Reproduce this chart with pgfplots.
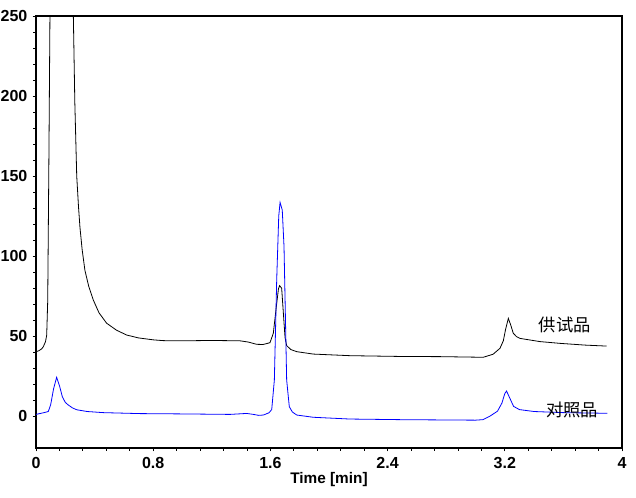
\documentclass[border=0pt]{standalone}
\usepackage{fontspec}
\setmainfont{Liberation Sans}
\newfontfamily\cjk{Noto Sans CJK SC}
\usepackage{pgfplots}
\pgfplotsset{compat=1.18}

% Sample (供试品) trace
\pgfplotstableread{
t v
0.000 40.2
0.020 40.8
0.039 42.0
0.050 43.3
0.065 46.5
0.073 50.5
0.080 72.0
0.088 160
0.096 260
0.110 520
0.170 800
0.240 520
0.255 250
0.265 196
0.278 150
0.290 131
0.300 118
0.315 104
0.334 91
0.360 81
0.391 72.5
0.430 64.5
0.482 58.0
0.550 53.6
0.619 50.6
0.700 48.8
0.800 47.6
0.869 47.1
1.000 47.0
1.200 47.2
1.392 47.0
1.450 46.2
1.506 44.8
1.550 44.7
1.597 45.8
1.620 51.7
1.640 68.0
1.655 79.5
1.663 81.5
1.677 79.8
1.688 65.0
1.700 49.0
1.711 44.0
1.740 41.5
1.780 40.2
1.893 38.7
2.143 37.7
2.500 37.2
2.758 37.1
3.053 36.7
3.120 38.6
3.167 42.3
3.190 47.0
3.205 54.0
3.224 61.0
3.240 57.0
3.258 51.7
3.280 49.6
3.304 48.5
3.440 46.5
3.577 45.4
3.750 44.3
3.895 43.7
}\sample

% Reference (对照品) trace
\pgfplotstableread{
t v
0.000 1.0
0.050 2.0
0.084 2.8
0.100 7.0
0.120 17.0
0.141 24.2
0.160 19.0
0.180 12.0
0.200 8.5
0.220 6.9
0.250 5.0
0.278 3.9
0.350 2.8
0.460 2.1
0.710 1.5
1.000 1.3
1.324 1.0
1.400 1.4
1.438 1.6
1.484 1.0
1.520 0.4
1.552 0.6
1.590 2.0
1.609 4.0
1.627 22.5
1.643 85.0
1.657 125.0
1.666 133.5
1.681 128.7
1.693 105.8
1.711 22.5
1.729 5.8
1.750 2.5
1.780 0.6
1.893 -0.8
2.143 -1.9
2.500 -2.3
3.000 -2.6
3.050 -2.3
3.100 0.0
3.150 3.0
3.180 8.0
3.200 14.0
3.212 15.6
3.230 12.0
3.260 6.0
3.300 4.0
3.400 2.8
3.600 2.1
3.900 1.7
}\reference

\begin{document}
\begin{tikzpicture}
\useasboundingbox (-27bp,-37.5bp) rectangle (450bp,336bp);
\begin{axis}[
  at={(0,0)}, anchor=south west,
  scale only axis,
  width=439.5bp, height=324bp,
  xmin=0, xmax=4, ymin=-20, ymax=250,
  xtick={0,0.8,1.6,2.4,3.2,4},
  xticklabels={0,0.8,1.6,2.4,3.2,4},
  ytick={0,50,100,150,200,250},
  minor x tick num=4,
  minor y tick num=4,
  tick align=outside,
  xtick pos=left, ytick pos=left,
  major tick length=2.5bp,
  minor tick length=2bp,
  axis line style={line width=0.9bp},
  every tick/.style={black, line width=0.6bp},
  /pgf/number format/assume math mode=true,
  ticklabel style={font=\bfseries\fontsize{12bp}{14bp}\selectfont},
  xticklabel style={yshift=-1bp},
  yticklabel style={xshift=-0.5bp},
  xlabel={Time [min]},
  xlabel style={font=\bfseries\fontsize{11.5bp}{13bp}\selectfont, yshift=4bp},
]
\addplot[black, line width=0.6bp] table[x=t, y=v] {\sample};
\addplot[blue, line width=0.6bp] table[x=t, y=v] {\reference};
\node[font=\cjk\fontsize{13bp}{15bp}\selectfont, inner sep=0pt] at (axis cs:3.61,57) {供试品};
\node[font=\cjk\fontsize{13bp}{15bp}\selectfont, inner sep=0pt] at (axis cs:3.66,4) {对照品};
\end{axis}
\end{tikzpicture}
\end{document}
